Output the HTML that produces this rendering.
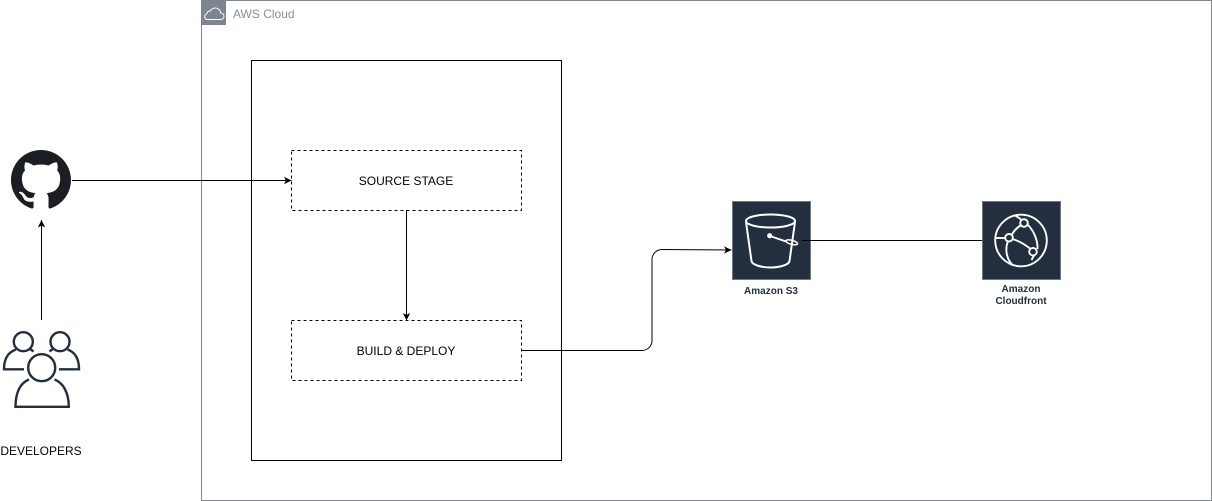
<!DOCTYPE html>
<html><head><meta charset="utf-8"><style>
html,body{margin:0;padding:0;background:#fff}
svg{display:block}
text{font-family:"Liberation Sans",Arial,sans-serif}
</style></head><body>
<svg width="1212" height="501" viewBox="0 0 1212 501" xmlns="http://www.w3.org/2000/svg">
<defs>
<marker id="a" markerWidth="9" markerHeight="9" refX="8" refY="4.500" orient="auto" markerUnits="userSpaceOnUse"><path d="M0.500 0.800L8 4.500L0.500 8.200L2.400 4.500Z" fill="#000"/></marker>
</defs>
<rect width="1212" height="501" fill="#fff"/>
<!-- AWS Cloud group -->
<rect x="201.500" y="0.500" width="1010" height="500" fill="#fff" stroke="#808890"/>
<rect x="201" y="0" width="25" height="25" fill="#7d8590"/>
<path d="M206.500 19.500h14c2.200 0 3.500-1.500 3.500-3.300 0-1.900-1.400-3.200-3.300-3.200-.4-3-2.600-5-5.500-5-2.300 0-4 1.200-4.900 3-1.900-.3-3.400.9-3.500 2.800-1.300.4-2.100 1.400-2.100 2.700 0 1.700 1 3 1.800 3z" fill="none" stroke="#fff" stroke-width="1"/>
<text x="233" y="18" font-size="12" fill="#8e8e8e">AWS Cloud</text>
<!-- Pipeline -->
<rect x="251.500" y="60.500" width="310" height="400" fill="#fff" stroke="#000"/>
<rect x="291.500" y="150.500" width="230" height="60" fill="#fff" stroke="#000" stroke-dasharray="3 3"/>
<text x="406" y="185" font-size="12" text-anchor="middle" fill="#000">SOURCE STAGE</text>
<rect x="291.500" y="320.500" width="230" height="60" fill="#fff" stroke="#000" stroke-dasharray="3 3"/>
<text x="406" y="355" font-size="12" text-anchor="middle" fill="#000">BUILD &amp; DEPLOY</text>
<!-- GitHub -->
<g transform="translate(11 150) scale(3.75)"><path fill="#1b1f23" d="M8 0C3.580 0 0 3.580 0 8c0 3.540 2.290 6.530 5.470 7.590.4.070.55-.17.55-.38 0-.19-.01-.82-.01-1.490-2.010.37-2.530-.49-2.690-.94-.09-.23-.48-.94-.82-1.130-.28-.15-.68-.52-.01-.53.63-.01 1.080.58 1.230.82.72 1.210 1.870.87 2.330.66.070-.52.28-.87.51-1.070-1.780-.2-3.640-.89-3.640-3.950 0-.87.31-1.590.82-2.150-.08-.2-.36-1.020.08-2.120 0 0 .67-.21 2.200.82.64-.18 1.320-.27 2-.27.68 0 1.360.09 2 .27 1.530-1.040 2.200-.82 2.200-.82.44 1.100.16 1.920.08 2.120.51.56.82 1.270.82 2.150 0 3.070-1.870 3.750-3.650 3.950.29.25.54.73.54 1.480 0 1.070-.01 1.930-.01 2.200 0 .21.15.46.55.38A8.013 8.013 0 0016 8c0-4.420-3.580-8-8-8z"/></g>
<!-- Developers -->
<g fill="none" stroke="#232f3e" stroke-width="2.400">
<circle cx="23.300" cy="341.700" r="9.500"/>
<circle cx="60" cy="341.700" r="9.500"/>
<circle cx="41.700" cy="367.700" r="13.500"/>
<path d="M16 349.500C8.500 352 4 358 4 369.300H24"/>
<path d="M67.500 349.500C75 352 79 358 79 369.300H59"/>
<path d="M29.500 348.500L33.500 351.500M53.500 348.500L49.500 351.500"/>
<path d="M29 379.500C20 383 15.500 393 15.500 406.800H68.800C68.800 393 63.500 383 54.500 379.500"/>
</g>
<text x="41" y="455" font-size="12" text-anchor="middle" fill="#000">DEVELOPERS</text>
<!-- S3 -->
<rect x="732.500" y="201.500" width="78" height="78" fill="#232f3e" stroke="#6f7885"/>
<g fill="none" stroke="#fff" stroke-width="2">
<ellipse cx="770.500" cy="221" rx="24.500" ry="6.500"/>
<path d="M746 222L751.500 261C752 265 762 267.500 770.500 267.500S789 265 789.500 261L795 222"/>
<path d="M770 236L786 241.500" stroke-width="1.800"/>
<ellipse cx="791.700" cy="242.300" rx="6" ry="2" transform="rotate(15 791.700 242.300)" stroke-width="1.500"/>
</g>
<circle cx="769.700" cy="235.700" r="2.600" fill="#fff"/>
<text x="771" y="294" font-size="10" font-weight="bold" text-anchor="middle" fill="#232f3e">Amazon S3</text>
<!-- CloudFront -->
<rect x="982.500" y="201.500" width="78" height="78" fill="#232f3e" stroke="#6f7885"/>
<g fill="none" stroke="#fff" stroke-width="1.900">
<circle cx="1021" cy="240.500" r="25.800"/>
<circle cx="1024" cy="223" r="3.800"/>
<circle cx="1009" cy="237.700" r="3.800"/>
<circle cx="1033" cy="251.700" r="3.800"/>
<path d="M1020.500 225.500C1017 227.500 1014 231 1012 234.500"/>
<path d="M1012.500 239C1019 241 1025 244.500 1030 248.500"/>
<path d="M1028 225C1034 231 1038 241 1037.500 249"/>
<path d="M1005.200 238L995.500 238"/>
<path d="M1007.800 241.500C1004.500 250 1007 260 1013 265.500"/>
<path d="M1015 215.500C1017 216.500 1019.500 218 1021 219.500"/>
<path d="M1034 255.500L1031.500 260"/>
</g>
<text x="1021" y="292" font-size="10" font-weight="bold" text-anchor="middle" fill="#232f3e">Amazon</text>
<text x="1021" y="304" font-size="10" font-weight="bold" text-anchor="middle" fill="#232f3e">Cloudfront</text>
<!-- Connectors -->
<path d="M72 180.500H291.500" fill="none" stroke="#000" marker-end="url(#a)"/>
<path d="M41.500 320V220" fill="none" stroke="#000" marker-end="url(#a)"/>
<path d="M406.500 210V320.500" fill="none" stroke="#000" marker-end="url(#a)"/>
<path d="M521.500 350.500H642a10 10 0 0 0 10-10V259.500a10 10 0 0 1 10-10L731.500 250" fill="none" stroke="#000" marker-end="url(#a)"/>
<path d="M802 240.500H982" fill="none" stroke="#000"/>
</svg>
</body></html>
